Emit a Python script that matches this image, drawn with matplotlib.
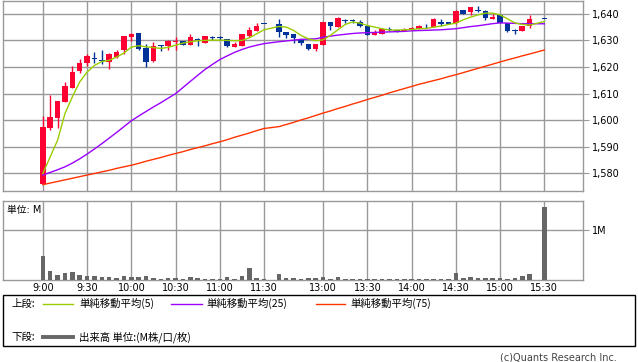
import numpy as np
import matplotlib
matplotlib.use("Agg")
import matplotlib.pyplot as plt
from matplotlib.lines import Line2D
from matplotlib.patches import Rectangle

plt.rcParams['font.family'] = ['DejaVu Sans', 'Noto Sans CJK JP']

# 5-minute slots: morning 9:00-11:30, one empty slot, afternoon 12:30-15:30
morning = [f"{9 + m // 60}:{m % 60:02d}" for m in range(0, 155, 5)]
afternoon = [f"{12 + (30 + m) // 60}:{(30 + m) % 60:02d}" for m in range(0, 185, 5)]
times = morning + [""] + afternoon
tick_times = ["9:00", "9:30", "10:00", "10:30", "11:00", "11:30",
              "13:00", "13:30", "14:00", "14:30", "15:00", "15:30"]

nan = np.nan
opens = [1576.1, 1596.9, 1600.9, 1606.9, 1612.3, 1618.5, 1621.5, 1623.5, 1622.4, 1621.75,
         1623.6, 1626.25, 1631.25, 1632.6, 1627.0, 1622.1, 1628.2, 1627.75, 1629.25, 1629.9,
         1628.25, 1630.4, 1629.0, 1631.1, 1631.1, 1630.6, 1627.5, 1627.9, 1631.6, 1633.4,
         1636.3, nan, 1636.25, 1633.25, 1632.25, 1630.0, 1628.6, 1626.75, 1628.25, 1636.75,
         1635.1, 1637.6, 1637.5, 1636.75, 1635.6, 1632.0, 1632.5, 1634.25, 1634.0, 1633.4,
         1633.9, 1634.4, 1635.4, 1635.1, 1637.1, 1636.75, 1636.5, 1641.5, 1640.6, 1641.25,
         1640.9, 1638.1, 1639.4, 1636.5, 1633.9, 1633.5, 1635.25, nan, 1638.2]
highs = [1601.6, 1609.6, 1607.1, 1614.4, 1620.3, 1623.2, 1624.9, 1625.5, 1626.25, 1625.4,
         1626.25, 1631.8, 1632.6, 1632.6, 1628.6, 1629.25, 1628.4, 1630.0, 1631.1, 1629.9,
         1632.25, 1630.9, 1631.6, 1631.6, 1631.6, 1630.6, 1629.25, 1632.4, 1635.0, 1636.4,
         1636.3, nan, 1638.1, 1633.25, 1632.25, 1630.4, 1628.6, 1628.6, 1636.75, 1636.75,
         1638.75, 1638.0, 1638.1, 1637.5, 1635.6, 1633.75, 1634.25, 1635.0, 1634.0, 1634.6,
         1635.0, 1635.9, 1636.25, 1638.4, 1638.1, 1636.75, 1641.6, 1641.6, 1642.5, 1642.9,
         1641.5, 1639.75, 1639.75, 1636.5, 1634.4, 1635.4, 1639.4, nan, 1638.2]
lows = [1576.1, 1596.5, 1597.1, 1606.9, 1612.3, 1617.7, 1620.5, 1621.7, 1621.25, 1619.25,
        1623.5, 1625.0, 1629.7, 1626.5, 1620.0, 1621.9, 1625.9, 1626.25, 1626.25, 1628.25,
        1628.25, 1627.9, 1629.0, 1630.25, 1630.0, 1627.5, 1627.5, 1627.9, 1631.25, 1633.4,
        1636.25, nan, 1631.25, 1630.9, 1629.0, 1628.1, 1626.4, 1626.0, 1628.25, 1633.9,
        1635.1, 1636.6, 1636.6, 1635.0, 1632.0, 1632.0, 1632.5, 1633.6, 1633.1, 1633.4,
        1633.9, 1634.4, 1634.5, 1635.1, 1635.6, 1636.0, 1636.25, 1639.9, 1639.4, 1640.6,
        1637.75, 1638.1, 1636.6, 1633.1, 1632.5, 1633.5, 1634.5, nan, 1638.0]
closes = [1597.4, 1601.1, 1607.1, 1612.8, 1618.0, 1621.7, 1624.0, 1623.2, 1622.2, 1624.9,
          1625.6, 1631.6, 1632.4, 1626.75, 1621.75, 1627.9, 1628.0, 1629.9, 1629.9, 1628.25,
          1631.1, 1630.0, 1631.5, 1630.75, 1630.9, 1627.9, 1628.6, 1632.4, 1634.1, 1635.6,
          1636.25, nan, 1633.1, 1632.0, 1630.9, 1629.0, 1626.6, 1628.6, 1636.75, 1635.5,
          1638.25, 1637.4, 1637.4, 1635.4, 1632.0, 1633.25, 1634.25, 1633.9, 1633.1, 1634.1,
          1634.6, 1635.4, 1635.25, 1637.9, 1636.1, 1636.0, 1640.9, 1639.9, 1642.5, 1640.9,
          1638.4, 1638.75, 1636.6, 1633.6, 1633.6, 1635.4, 1637.9, nan, 1638.1]

ma5 = [1580.0, 1586.25, 1592.5, 1602.5, 1608.75, 1614.4, 1618.1, 1620.6, 1622.1, 1622.5,
       1623.75, 1625.25, 1627.5, 1628.0, 1627.6, 1627.3, 1627.0, 1627.4, 1628.2, 1629.0,
       1629.5, 1629.9, 1630.0, 1630.1, 1630.1, 1630.0, 1629.9, 1630.0, 1631.0, 1632.5,
       1634.0, nan, 1635.25, 1635.0, 1633.75, 1631.9, 1630.6, 1629.9, 1630.2, 1631.9,
       1634.0, 1636.0, 1636.9, 1636.5, 1635.6, 1635.0, 1634.4, 1633.9, 1633.9, 1634.0,
       1634.1, 1634.4, 1634.5, 1635.0, 1635.4, 1636.0, 1636.5, 1637.75, 1638.75, 1639.6,
       1640.25, 1640.25, 1639.6, 1638.1, 1636.6, 1636.0, 1635.75, nan, 1637.1]
ma25 = [1579.4, 1580.4, 1581.4, 1582.5, 1583.9, 1585.5, 1587.3, 1589.2, 1591.2, 1593.3,
        1595.4, 1597.6, 1599.8, 1601.6, 1603.3, 1605.0, 1606.6, 1608.3, 1610.0, 1612.3,
        1614.6, 1616.9, 1619.1, 1621.0, 1622.8, 1624.2, 1625.5, 1626.6, 1627.5, 1628.2,
        1628.8, nan, 1629.5, 1629.8, 1630.1, 1630.4, 1630.5, 1630.6, 1631.2, 1631.6,
        1632.0, 1632.3, 1632.6, 1632.8, 1632.9, 1633.0, 1633.1, 1633.2, 1633.3, 1633.4,
        1633.6, 1633.7, 1633.8, 1633.9, 1634.0, 1634.2, 1634.4, 1634.8, 1635.2, 1635.5,
        1635.9, 1636.3, 1636.6, 1636.5, 1636.4, 1636.3, 1636.3, nan, 1636.25]
ma75 = [1575.8, 1576.4, 1577.0, 1577.6, 1578.2, 1578.8, 1579.4, 1580.0, 1580.6, 1581.2,
        1581.9, 1582.5, 1583.1, 1583.8, 1584.6, 1585.3, 1586.0, 1586.8, 1587.5, 1588.2,
        1589.0, 1589.7, 1590.4, 1591.2, 1591.9, 1592.7, 1593.6, 1594.4, 1595.2, 1596.1,
        1596.9, nan, 1597.6, 1598.4, 1599.2, 1600.1, 1600.9, 1601.8, 1602.7, 1603.5,
        1604.4, 1605.2, 1606.1, 1606.9, 1607.8, 1608.6, 1609.4, 1610.3, 1611.1, 1611.9,
        1612.7, 1613.5, 1614.2, 1614.9, 1615.6, 1616.4, 1617.1, 1617.9, 1618.7, 1619.5,
        1620.3, 1621.1, 1621.9, 1622.7, 1623.4, 1624.2, 1624.9, nan, 1626.4]

# volume in millions of shares
volume = [0.48, 0.18, 0.10, 0.14, 0.16, 0.10, 0.08, 0.08, 0.06, 0.06,
          0.04, 0.08, 0.055, 0.06, 0.08, 0.04, 0.02, 0.04, 0.04, 0.02,
          0.06, 0.04, 0.02, 0.02, 0.02, 0.06, 0.01, 0.08, 0.24, 0.04,
          0.02, nan, 0.12, 0.04, 0.04, 0.02, 0.04, 0.04, 0.066, 0.02,
          0.06, 0.02, 0.02, 0.02, 0.02, 0.02, 0.02, 0.01, 0.01, 0.01,
          0.02, 0.02, 0.02, 0.02, 0.02, 0.02, 0.14, 0.04, 0.06, 0.04,
          0.04, 0.04, 0.04, 0.02, 0.04, 0.08, 0.12, nan, 1.445]

UP = '#ff0033'
DOWN = '#003399'
GRID = '#999999'
W, H = 638, 362

def fx(px):
    return px / W

def fy(py):
    return 1 - py / H

fig = plt.figure(figsize=(6.38, 3.62), dpi=100)
ax = fig.add_axes([fx(3), fy(190.5), fx(582.7) - fx(3), fy(0.5) - fy(190.5)])
axv = fig.add_axes([fx(3), fy(280), fx(582.7) - fx(3), fy(201) - fy(280)], sharex=ax)

x = np.arange(len(times))
o, h, l, c = (np.array(a, dtype=float) for a in (opens, highs, lows, closes))
ok = ~np.isnan(o)
colors = np.where(c > o, UP, DOWN)
body_lo = np.minimum(o, c)
body_h = np.maximum(np.abs(c - o), 0.35)

tick_pos = [times.index(t) for t in tick_times]

for a in (ax, axv):
    for sp in a.spines.values():
        sp.set_color(GRID)
        sp.set_linewidth(1)
    a.set_xticks(tick_pos)
    a.grid(True, color=GRID, linewidth=1)
    a.set_axisbelow(True)
    a.yaxis.tick_right()
    a.tick_params(axis='y', direction='out', length=4, color=GRID, labelsize=7, pad=3)
    a.tick_params(axis='x', length=0, labelsize=7, pad=2)

# price panel
ax.vlines(x[ok], l[ok], h[ok], colors=colors[ok], linewidth=1, zorder=2)
ax.bar(x[ok], body_h[ok], bottom=body_lo[ok], width=0.75, color=colors[ok], zorder=3)
for vals, col in ((ma75, '#ff3300'), (ma25, '#9900ff'), (ma5, '#99cc00')):
    v = np.array(vals, dtype=float)
    m = ~np.isnan(v)
    ax.plot(x[m], v[m], color=col, linewidth=1, zorder=4)

ax.set_xlim(-5.4, 73.2)
ax.set_ylim(1573.6, 1645.0)
ax.set_yticks(np.arange(1580, 1641, 10))
ax.set_yticklabels([f"{v:,}" for v in range(1580, 1641, 10)])
ax.tick_params(axis='x', labelbottom=False)

# volume panel
vol = np.array(volume, dtype=float)
vm = ~np.isnan(vol)
axv.bar(x[vm], vol[vm], width=0.62, color='#666666', zorder=3)
axv.set_ylim(0, 1.57)
axv.set_yticks([1.0])
axv.set_yticklabels(["1M"])
axv.set_xticklabels(tick_times)
axv.text(0.007, 0.88, "単位: M", transform=axv.transAxes, fontsize=7,
         ha='left', va='center', family=['DejaVu Sans', 'Noto Sans CJK JP'])

# legend box
fig.add_artist(Rectangle((fx(3), fy(346.3)), fx(634.7) - fx(3), fy(295.3) - fy(346.3),
                         transform=fig.transFigure, fill=False, edgecolor='black', linewidth=1))
jp = ['Noto Sans CJK JP', 'DejaVu Sans']
row1, row2 = 303.5, 337
fig.text(fx(11), fy(row1), "上段:", fontsize=7.5, va='center', family=jp)
fig.text(fx(11), fy(row2), "下段:", fontsize=7.5, va='center', family=jp)
legend_items = [(43, 73, 79, '#99cc00', "単純移動平均(5)"),
                (171, 202, 206, '#9900ff', "単純移動平均(25)"),
                (316, 345, 350, '#ff3300', "単純移動平均(75)")]
for x0, x1, xt, col, label in legend_items:
    fig.add_artist(Line2D([fx(x0), fx(x1)], [fy(row1), fy(row1)], color=col,
                          linewidth=1, transform=fig.transFigure))
    fig.text(fx(xt), fy(row1), label, fontsize=7.5, va='center', family=jp)
fig.add_artist(Line2D([fx(43), fx(73)], [fy(row2), fy(row2)], color='#666666',
                      linewidth=2.8, transform=fig.transFigure))
fig.text(fx(79), fy(row2), "出来高 単位:(M株/口/枚)", fontsize=7.5, va='center', family=jp)

fig.text(fx(617), fy(357.5), "(c)Quants Research Inc.", fontsize=7, color='#444444',
         ha='right', va='center')

fig.savefig("out.png", dpi=100)
